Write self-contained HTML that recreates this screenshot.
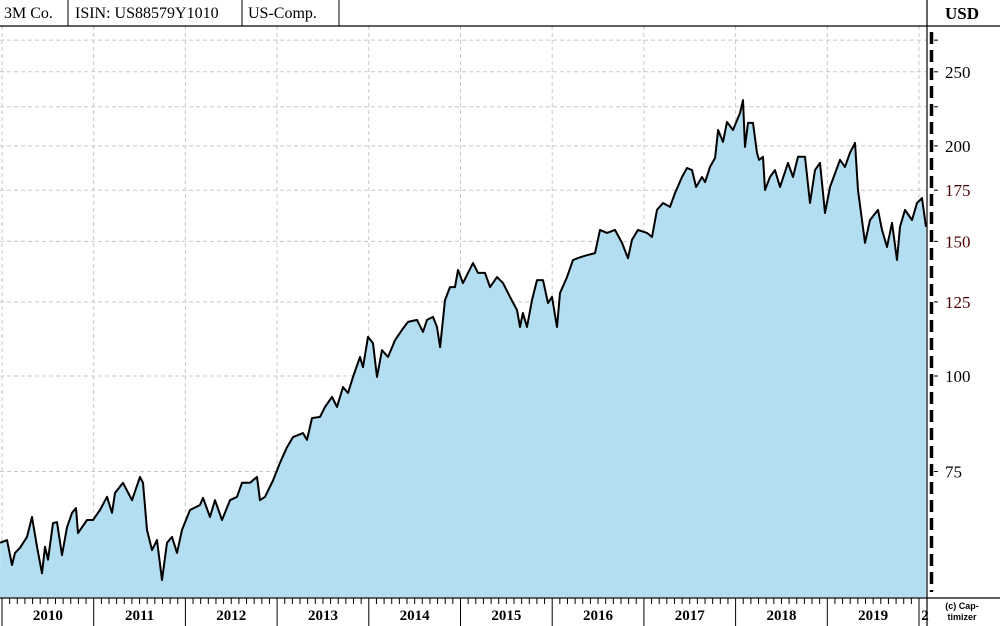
<!DOCTYPE html>
<html><head><meta charset="utf-8"><style>
body{margin:0;background:#fff;}
svg{display:block;font-family:"Liberation Serif",serif;}
</style></head><body>
<svg width="1000" height="626" viewBox="0 0 1000 626">
<g id="grid"></g>
<g id="area"></g>
<g id="header">
<line x1="0" y1="26" x2="1000" y2="26" stroke="#000" stroke-width="1.2"/>
<line x1="68" y1="0" x2="68" y2="26" stroke="#000"/>
<line x1="242" y1="0" x2="242" y2="26" stroke="#000"/>
<line x1="339" y1="0" x2="339" y2="26" stroke="#000"/>
<text x="4" y="18" font-size="16">3M Co.</text>
<text x="75" y="18" font-size="16">ISIN: US88579Y1010</text>
<text x="248" y="18" font-size="16">US-Comp.</text>
<text x="945" y="19" font-size="17" font-weight="bold">USD</text>
</g>
<g id="yaxis"></g>
<g id="xaxis"></g>
<text x="962" y="609" font-size="9" font-weight="bold" font-family="Liberation Sans" text-anchor="middle">(c) Cap-</text>
<text x="962" y="620" font-size="9" font-weight="bold" font-family="Liberation Sans" text-anchor="middle">timizer</text>
</svg>
<script>
// years since 2010
const dates=[-0.02,.055,.109,.142,.196,.273,.327,.382,.436,.469,.502,.556,.600,.654,.709,.763,.807,.829,.927,.992,1.069,1.145,1.200,1.232,1.320,1.418,1.505,1.538,1.581,1.636,1.690,1.745,1.799,1.854,1.908,1.963,2.050,2.159,2.192,2.268,2.323,2.399,2.486,2.563,2.617,2.704,2.781,2.814,2.868,2.955,3.032,3.108,3.173,3.282,3.326,3.381,3.468,3.522,3.599,3.653,3.719,3.773,3.828,3.904,3.937,3.991,4.046,4.089,4.144,4.209,4.286,4.362,4.428,4.526,4.591,4.635,4.700,4.744,4.777,4.831,4.885,4.940,4.973,5.027,5.082,5.136,5.191,5.267,5.322,5.398,5.463,5.540,5.616,5.649,5.681,5.725,5.780,5.834,5.900,5.954,5.998,6.052,6.085,6.161,6.227,6.303,6.380,6.467,6.521,6.598,6.685,6.761,6.827,6.870,6.936,7.034,7.088,7.143,7.208,7.285,7.339,7.415,7.470,7.525,7.569,7.634,7.667,7.721,7.776,7.809,7.863,7.906,7.972,8.048,8.081,8.103,8.135,8.190,8.233,8.255,8.299,8.321,8.375,8.430,8.484,8.571,8.626,8.680,8.757,8.811,8.866,8.920,8.975,9.029,9.138,9.193,9.247,9.302,9.335,9.411,9.466,9.553,9.597,9.651,9.706,9.760,9.793,9.847,9.924,9.978,10.033,10.076];
const prices=[60.5,61.0,56.6,58.7,59.6,61.6,65.4,59.8,55.2,59.8,57.5,64.2,64.4,58.3,63.4,66.2,67.2,62.3,64.8,64.8,66.8,69.5,66.2,70.3,72.5,68.8,73.8,72.5,62.9,59.2,61.0,54.1,60.5,61.6,58.7,62.9,66.8,67.8,69.3,65.4,68.8,64.8,68.8,69.5,72.5,72.5,73.8,68.8,69.5,73.0,77.0,80.7,83.2,84.2,82.5,88.1,88.4,91.1,93.9,91.1,96.7,95.0,99.7,105.9,102.7,112.5,110.4,99.7,108.1,105.9,111.4,114.9,117.7,118.4,114.2,118.4,119.5,115.9,109.1,125.7,130.7,130.7,137.6,132.3,136.4,140.5,136.4,136.4,130.7,134.7,132.3,126.9,122.0,115.9,120.9,115.9,125.7,133.5,133.5,124.6,126.9,115.9,128.4,134.7,141.8,143.0,143.9,144.8,155.3,153.9,155.3,149.3,142.6,150.7,155.3,153.9,152.0,164.9,168.4,166.4,173.5,182.1,187.1,185.9,176.7,182.1,179.3,187.7,192.9,209.8,202.4,214.9,209.8,220.8,229.6,199.4,214.3,214.3,195.8,191.7,193.5,175.1,182.1,185.9,176.7,190.0,182.1,193.5,193.5,168.4,185.9,190.0,163.4,176.7,191.7,187.7,195.8,201.8,175.1,149.3,160.0,164.9,155.3,147.5,158.6,141.8,156.7,164.9,160.0,168.4,170.9,156.7];
const yTicks=[250,200,175,150,125,100,75];
const yGrid=[275,250,225,200,175,150,125,100,75];
const years=[2010,2011,2012,2013,2014,2015,2016,2017,2018,2019,2020];
const NS='http://www.w3.org/2000/svg';
const X0=2,YW=91.7,L=0,R=926,T=26,B=597;
const xs=t=>X0+t*YW;
const ys=p=>376-332*Math.log(p/100);
function mk(tag,at,parent){const e=document.createElementNS(NS,tag);for(const k in at)e.setAttribute(k,at[k]);parent.appendChild(e);return e;}
const grid=document.getElementById('grid');
yGrid.forEach(v=>{const l=mk('line',{x1:L,x2:R,y1:ys(v),y2:ys(v),stroke:'#c8c8c8','stroke-dasharray':'4,3'},grid);

});
years.forEach(y=>{const x=xs(y-2010);if(x>R)return;const l=mk('line',{x1:x,x2:x,y1:T,y2:B,stroke:'#c8c8c8','stroke-dasharray':'4,3'},grid);

});
const area=document.getElementById('area');
let d='';dates.forEach((t,i)=>{d+=(i?'L':'M')+Math.max(L,Math.min(R,xs(t))).toFixed(1)+','+ys(prices[i]).toFixed(1);});
const lastX=Math.min(R,xs(dates[dates.length-1]));
const fill=mk('path',{d:d+'L'+lastX+','+B+'L'+L+','+B+'Z',fill:'#b3ddf0'},area);


const line=mk('path',{d:d,fill:'none',stroke:'#000','stroke-width':2,'stroke-linejoin':'round'},area);


// right axis
const ya=document.getElementById('yaxis');
mk('rect',{x:R,y:0,width:1000-R,height:B,fill:'none'},ya);
mk('line',{x1:927,x2:927,y1:0,y2:626,stroke:'#000','stroke-width':1.2},ya);
mk('line',{x1:931.5,x2:931.5,y1:32,y2:592,stroke:'#000','stroke-width':3.5,'stroke-dasharray':'12,6'},ya);
yGrid.forEach(v=>{mk('line',{x1:934,x2:938,y1:ys(v),y2:ys(v),stroke:'#000'},ya);});
yTicks.forEach(v=>{const t=mk('text',{x:945,y:ys(v)+6,'font-size':17,fill:(v>=125&&v<=175)?'#4a0000':'#000'},ya);t.textContent=v;

});
// bottom axis
const xa=document.getElementById('xaxis');
mk('rect',{x:0,y:B,width:R,height:626-B,fill:'#fff'},xa);
mk('line',{x1:0,x2:1000,y1:598,y2:598,stroke:'#000','stroke-width':1.2},xa);
years.forEach(y=>{const x=xs(y-2010);if(x>R)return;
mk('line',{x1:x,x2:x,y1:598,y2:626,stroke:'#000'},xa);
for(let m=1;m<12;m++){const mx=x+m*YW/12;if(mx<R)mk('line',{x1:mx,x2:mx,y1:598,y2:604,stroke:'#000'},xa);}
const t=mk('text',{x:y===2020?x+6:x+YW/2,y:620,'font-size':15,'font-weight':'bold','text-anchor':'middle'},xa);
t.textContent=y===2020?'2':y;

});
</script>
</body></html>
